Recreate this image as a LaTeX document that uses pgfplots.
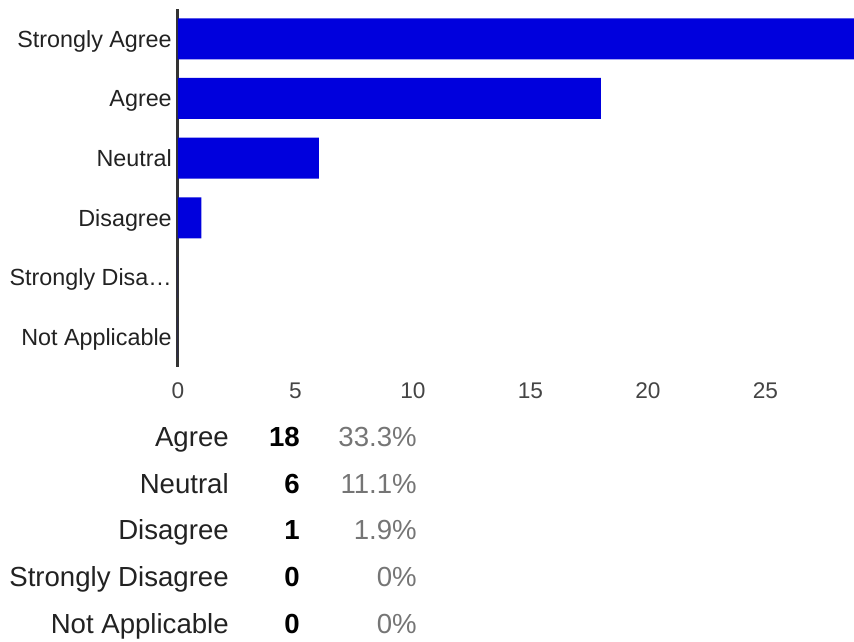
\documentclass[border=0pt]{standalone}
\usepackage{fontspec}
\setmainfont{Liberation Sans}
\usepackage{pgfplots}
\pgfplotsset{compat=1.18}
\definecolor{barblue}{RGB}{0,0,221}
\definecolor{axisgray}{RGB}{51,51,51}
\definecolor{ticklab}{RGB}{68,68,68}
\definecolor{catlab}{RGB}{34,34,34}
\definecolor{pctgray}{RGB}{117,117,117}
\begin{document}
\begin{tikzpicture}
\path[use as bounding box] (0,0) rectangle (640.5pt,481.5pt);
\begin{axis}[
  at={(133.5pt,206.25pt)}, anchor=south west,
  scale only axis, width=507pt, height=268.5pt,
  xbar, bar width=30.75pt, bar shift=0pt,
  xmin=0, xmax=28.77, ymin=-0.5, ymax=5.5,
  axis lines*=left,
  x axis line style={draw=none},
  y axis line style={draw=axisgray, line width=2.25pt, -},
  major tick length=0pt,
  xtick={0,5,10,15,20,25},
  ytick={0,1,2,3,4,5},
  yticklabels={Not Applicable, Strongly Disa…, Disagree, Neutral, Agree, Strongly Agree},
  /pgf/number format/assume math mode=true,
  xticklabel style={font=\fontsize{17}{20}\selectfont, text=ticklab, anchor=center, yshift=-18pt},
  yticklabel style={font=\fontsize{17.5}{20}\selectfont, text=catlab, anchor=base east, inner sep=0pt, xshift=-4.5pt, yshift=-6.3pt},
]
\addplot[fill=barblue, draw=none] coordinates {(29,5) (18,4) (6,3) (1,2) (0,1) (0,0)};
\end{axis}
\foreach \y/\lab/\n/\p in {146.5/Agree/18/33.3\%, 111.5/Neutral/6/11.1\%, 76.5/Disagree/1/1.9\%, 41.5/Strongly Disagree/0/0\%, 6.5/Not Applicable/0/0\%}{
  \node[anchor=base east, inner sep=0pt, font=\fontsize{20.7}{24}\selectfont, text=catlab] at (171.75pt,\y pt) {\lab};
  \node[anchor=base east, inner sep=0pt, font=\fontsize{20.7}{24}\selectfont\bfseries, text=black] at (225pt,\y pt) {\n};
  \node[anchor=base east, inner sep=0pt, font=\fontsize{20.7}{24}\selectfont, text=pctgray] at (312.75pt,\y pt) {\p};
}
\end{tikzpicture}
\end{document}
